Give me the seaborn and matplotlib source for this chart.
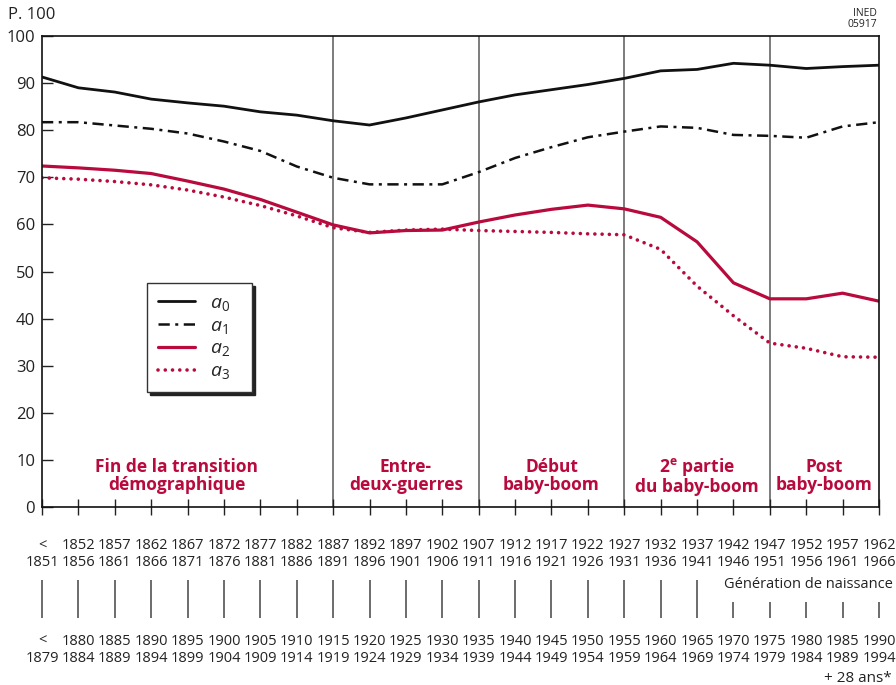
import numpy as np
import pandas as pd
import seaborn as sns
import matplotlib.pyplot as plt
from matplotlib import transforms

# ---------------- data ----------------
gen_top = ["<", "1852", "1857", "1862", "1867", "1872", "1877", "1882", "1887", "1892", "1897", "1902",
           "1907", "1912", "1917", "1922", "1927", "1932", "1937", "1942", "1947", "1952", "1957", "1962"]
gen_bot = ["1851", "1856", "1861", "1866", "1871", "1876", "1881", "1886", "1891", "1896", "1901", "1906",
           "1911", "1916", "1921", "1926", "1931", "1936", "1941", "1946", "1951", "1956", "1961", "1966"]
obs_top = ["<", "1880", "1885", "1890", "1895", "1900", "1905", "1910", "1915", "1920", "1925", "1930",
           "1935", "1940", "1945", "1950", "1955", "1960", "1965", "1970", "1975", "1980", "1985", "1990"]
obs_bot = ["1879", "1884", "1889", "1894", "1899", "1904", "1909", "1914", "1919", "1924", "1929", "1934",
           "1939", "1944", "1949", "1954", "1959", "1964", "1969", "1974", "1979", "1984", "1989", "1994"]

a0 = [91.3, 89.0, 88.1, 86.6, 85.8, 85.1, 83.9, 83.2, 82.0, 81.1, 82.6, 84.3,
      86.0, 87.5, 88.6, 89.7, 91.0, 92.6, 92.9, 94.2, 93.8, 93.1, 93.5, 93.8]
a1 = [81.7, 81.7, 81.0, 80.3, 79.3, 77.6, 75.6, 72.3, 69.9, 68.5, 68.5, 68.5,
      71.1, 74.1, 76.4, 78.5, 79.7, 80.8, 80.5, 79.0, 78.8, 78.4, 80.8, 81.7]
a2 = [72.4, 72.0, 71.5, 70.8, 69.2, 67.5, 65.3, 62.6, 59.9, 58.2, 58.7, 58.8,
      60.5, 62.0, 63.2, 64.1, 63.3, 61.5, 56.3, 47.6, 44.2, 44.2, 45.4, 43.7]
a3 = [69.9, 69.6, 69.1, 68.4, 67.3, 65.8, 64.0, 61.8, 59.3, 58.3, 58.8, 59.0,
      58.7, 58.5, 58.3, 58.0, 57.8, 54.7, 46.9, 40.6, 34.8, 33.7, 31.9, 31.8]

period_edges = [8, 12, 16, 20]
period_names = ["Fin de la transition\ndémographique", "Entre-\ndeux-guerres", "Début\nbaby-boom",
                "2$^{\\mathbf{e}}$ partie\ndu baby-boom", "Post\nbaby-boom"]
period_centers = [3.7, 10.0, 14.0, 18.0, 21.5]

CRIMSON = "#b80a3d"

# ---------------- style ----------------
sns.set_theme(style="white")
plt.rcParams["font.family"] = ["Open Sans", "DejaVu Sans"]
plt.rcParams["mathtext.fontset"] = "custom"
plt.rcParams["mathtext.it"] = "Open Sans:italic"
plt.rcParams["mathtext.rm"] = "Open Sans"
plt.rcParams["mathtext.bf"] = "Open Sans:bold"

fig = plt.figure(figsize=(8.96, 6.85), dpi=100)
ax = fig.add_axes([42 / 896, 1 - 507 / 685, (879 - 42) / 896, (507 - 36) / 685])

pos = np.arange(len(gen_top))
df = pd.DataFrame({"pos": pos, "a0": a0, "a1": a1, "a2": a2, "a3": a3})

sns.lineplot(data=df, x="pos", y="a0", ax=ax, color="#111111", lw=2.0, label="$a_0$   ")
sns.lineplot(data=df, x="pos", y="a1", ax=ax, color="#111111", lw=1.8,
             linestyle=(0, (4.5, 2.2, 1.2, 2.2)), label="$a_1$   ")
sns.lineplot(data=df, x="pos", y="a2", ax=ax, color=CRIMSON, lw=2.3, label="$a_2$   ")
sns.lineplot(data=df, x="pos", y="a3", ax=ax, color=CRIMSON, lw=2.6,
             linestyle=(0, (0.01, 2.0)), dash_capstyle="round", label="$a_3$   ")

for e in period_edges:
    ax.axvline(e, color="#666666", lw=1.2, zorder=0)

ax.set_xlim(0, len(gen_top) - 1)
ax.set_ylim(0, 100)
ax.set_yticks(range(0, 101, 10))
ax.set_xticks(pos)
ax.set_xticklabels([f"{t}\n{b}" for t, b in zip(gen_top, gen_bot)], fontsize=10.5, color="#222222",
                   linespacing=1.2)
ax.tick_params(axis="x", direction="inout", length=12, width=1, color="#222222", pad=16.5, bottom=True)
ax.tick_params(axis="y", direction="in", length=8, width=1, color="#222222", pad=5, left=True,
               labelsize=12, labelcolor="#222222")
ax.set_xlabel("")
ax.set_ylabel("")
for s in ax.spines.values():
    s.set_color("#111111")
    s.set_linewidth(1.2)
    s.set_visible(True)

# period labels
for c, name in zip(period_centers, period_names):
    ax.text(c, 6.6, name, ha="center", va="center", color=CRIMSON, fontsize=12.5,
            fontweight="bold", linespacing=1.05)

# vertical connector bars and second scale labels
trans = transforms.blended_transform_factory(ax.transData, ax.transAxes)
for i in pos:
    y_top = -0.2017 if i >= 19 else -0.155
    ax.vlines(i, -0.2357, y_top, transform=trans, color="#444444", lw=1.1, clip_on=False)
    ax.text(i, -0.304, f"{obs_top[i]}\n{obs_bot[i]}", transform=trans, ha="center", va="center",
            fontsize=10.5, color="#222222", linespacing=1.2)

leg = ax.legend(loc="upper left", bbox_to_anchor=(0.1254, 0.4756), borderaxespad=0, fancybox=False,
                shadow={"color": "#222222", "alpha": 1}, frameon=True, fontsize=14, handlelength=1.9,
                labelspacing=0.2, handletextpad=0.8, borderpad=0.55)
leg.get_frame().set_edgecolor("#333333")
leg.get_frame().set_linewidth(1.0)
leg.get_frame().set_alpha(1)

fig.text(8 / 896, 1 - 15 / 685, "P. 100", ha="left", va="center", fontsize=12, color="#222222")
fig.text(877 / 896, 1 - 19 / 685, "INED\n05917", ha="right", va="center", fontsize=7.5, color="#222222",
         linespacing=0.95)
fig.text(893 / 896, 1 - 585 / 685, "Génération de naissance", ha="right", va="center", fontsize=10.5,
         color="#222222")
fig.text(892 / 896, 1 - 678 / 685, "+ 28 ans*", ha="right", va="center", fontsize=11, color="#222222")

fig.savefig("out.png", dpi=100)
